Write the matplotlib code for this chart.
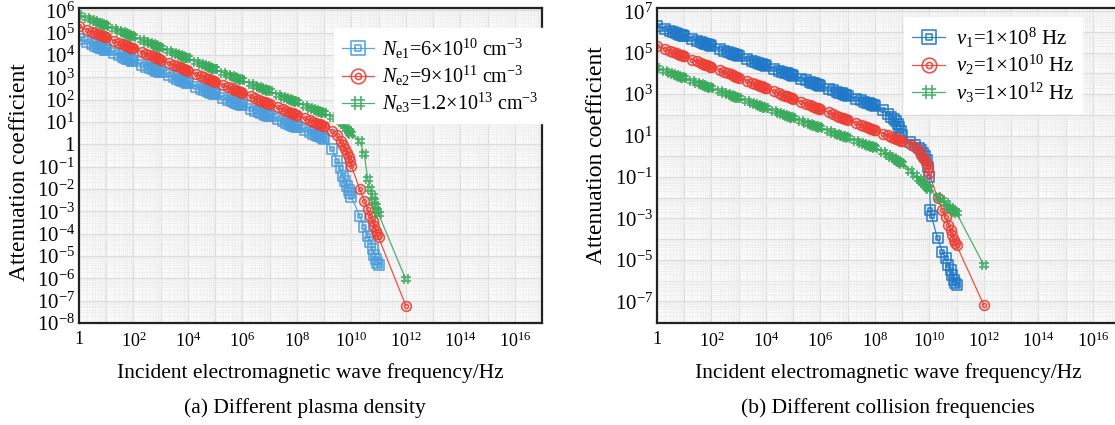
import numpy as np
import matplotlib
matplotlib.use("Agg")
import matplotlib.pyplot as plt
from matplotlib.path import Path
from matplotlib.ticker import LogLocator, FuncFormatter, NullFormatter

plt.rcParams['font.family'] = ['Liberation Serif', 'DejaVu Serif']
plt.rcParams['mathtext.fontset'] = 'custom'
plt.rcParams['mathtext.rm'] = 'Liberation Serif'
plt.rcParams['mathtext.it'] = 'Liberation Serif:italic'
plt.rcParams['mathtext.bf'] = 'Liberation Serif:bold'

# Frequency sampling: k x 10^n Hz, k = 1..9, for decades 10^0 .. 10^8
grid_decades = [0, 1, 2, 3, 4, 5, 6, 7, 8]
grid_steps = [1, 2, 3, 4, 5, 6, 7, 8, 9]

# Frequencies beyond 10^9 Hz (near and above the plasma frequency)
tail_freq_a = [1e9, 2e9, 3e9, 4e9, 5e9, 6e9, 7e9, 8e9, 9e9,
               1e10, 2e10, 3e10, 4e10, 5e10, 6e10, 7e10, 8e10, 9e10, 1e11]
tail_freq_a_ext = tail_freq_a + [1e12]

# ---- (a) different plasma density: log10 of attenuation coefficient ----
ne1_log = [4.72, 4.57, 4.48, 4.42, 4.37, 4.33, 4.30, 4.27, 4.24,
           4.22, 4.07, 3.98, 3.92, 3.87, 3.83, 3.80, 3.77, 3.74,
           3.72, 3.57, 3.48, 3.42, 3.37, 3.33, 3.30, 3.27, 3.24,
           3.23, 3.08, 2.99, 2.93, 2.88, 2.84, 2.81, 2.78, 2.75,
           2.73, 2.58, 2.49, 2.43, 2.38, 2.34, 2.31, 2.28, 2.25,
           2.24, 2.09, 2.00, 1.94, 1.89, 1.85, 1.82, 1.79, 1.76,
           1.75, 1.60, 1.51, 1.45, 1.40, 1.36, 1.33, 1.30, 1.27,
           1.26, 1.11, 1.02, 0.96, 0.91, 0.87, 0.84, 0.81, 0.78,
           0.77, 0.62, 0.53, 0.47, 0.42, 0.38, 0.35, 0.32, 0.29]
ne1_tail_log = [0.22, -0.22, -0.75, -1.08, -1.42, -1.64, -1.86, -2.05, -2.20,
                -2.35, -3.20, -3.72, -4.09, -4.39, -4.69, -4.95, -5.13, -5.30, -5.40]

ne2_log = [5.28, 5.13, 5.04, 4.98, 4.93, 4.89, 4.86, 4.83, 4.80,
           4.78, 4.63, 4.54, 4.48, 4.43, 4.39, 4.36, 4.33, 4.30,
           4.29, 4.14, 4.05, 3.99, 3.94, 3.90, 3.87, 3.84, 3.81,
           3.79, 3.64, 3.55, 3.49, 3.44, 3.40, 3.37, 3.34, 3.31,
           3.29, 3.14, 3.05, 2.99, 2.94, 2.90, 2.87, 2.84, 2.81,
           2.80, 2.65, 2.56, 2.50, 2.45, 2.41, 2.38, 2.35, 2.32,
           2.30, 2.15, 2.06, 2.00, 1.95, 1.91, 1.88, 1.85, 1.82,
           1.80, 1.65, 1.56, 1.50, 1.45, 1.41, 1.38, 1.35, 1.32,
           1.31, 1.16, 1.07, 1.01, 0.96, 0.92, 0.89, 0.86, 0.83]
ne2_tail_log = [0.80, 0.59, 0.40, 0.14, -0.05, -0.22, -0.40, -0.55, -0.75,
                -0.97, -1.98, -2.53, -2.90, -3.20, -3.42, -3.65, -3.87, -4.03, -4.17,
                -7.22]

ne3_log = [5.80, 5.65, 5.56, 5.50, 5.45, 5.41, 5.38, 5.35, 5.32,
           5.31, 5.16, 5.07, 5.01, 4.96, 4.92, 4.89, 4.86, 4.83,
           4.82, 4.67, 4.58, 4.52, 4.47, 4.43, 4.40, 4.37, 4.34,
           4.33, 4.18, 4.09, 4.03, 3.98, 3.94, 3.91, 3.88, 3.85,
           3.84, 3.69, 3.60, 3.54, 3.49, 3.45, 3.42, 3.39, 3.36,
           3.35, 3.20, 3.11, 3.05, 3.00, 2.96, 2.93, 2.90, 2.87,
           2.86, 2.71, 2.62, 2.56, 2.51, 2.47, 2.44, 2.41, 2.38,
           2.37, 2.22, 2.13, 2.07, 2.02, 1.98, 1.95, 1.92, 1.89,
           1.88, 1.73, 1.64, 1.58, 1.53, 1.49, 1.46, 1.43, 1.40]
ne3_tail_log = [1.38, 1.24, 1.12, 1.00, 0.90, 0.80, 0.70, 0.60, 0.52,
                0.45, 0.15, -0.45, -1.56, -2.00, -2.31, -2.53, -2.75, -2.98, -3.13,
                -6.05]

# ---- (b) different collision frequency: log10 of attenuation coefficient ----
nu1_log = [6.29, 6.15, 6.06, 6.00, 5.95, 5.92, 5.88, 5.86, 5.83,
           5.81, 5.67, 5.58, 5.52, 5.47, 5.44, 5.40, 5.38, 5.35,
           5.33, 5.19, 5.10, 5.04, 4.99, 4.96, 4.92, 4.90, 4.87,
           4.85, 4.71, 4.62, 4.56, 4.51, 4.48, 4.44, 4.42, 4.39,
           4.37, 4.23, 4.14, 4.08, 4.03, 4.00, 3.96, 3.94, 3.91,
           3.89, 3.75, 3.66, 3.60, 3.55, 3.52, 3.48, 3.46, 3.43,
           3.41, 3.27, 3.18, 3.12, 3.07, 3.04, 3.00, 2.98, 2.95,
           2.93, 2.79, 2.70, 2.64, 2.59, 2.56, 2.52, 2.50, 2.47,
           2.45, 2.22, 2.05, 1.92, 1.80, 1.68, 1.55, 1.40, 1.22]
nu1_tail_freq = [1e9, 2e9, 3e9, 4e9, 5e9, 6e9, 7e9, 8e9, 9e9, 1e10, 1.1e10, 1.2e10,
                 2e10, 3e10, 4e10, 5e10, 6e10, 7e10, 8e10, 9e10, 1e11]
nu1_tail_log = [1.05, 0.70, 0.55, 0.42, 0.30, 0.15, 0.00, -0.20, -0.50, -0.99, -2.60, -2.90,
                -3.96, -4.60, -4.93, -5.25, -5.49, -5.73, -5.98, -6.10, -6.22]

nu2_log = [5.33, 5.18, 5.09, 5.02, 4.97, 4.93, 4.90, 4.87, 4.84,
           4.82, 4.67, 4.58, 4.51, 4.46, 4.42, 4.39, 4.36, 4.33,
           4.31, 4.16, 4.07, 4.00, 3.95, 3.91, 3.88, 3.85, 3.82,
           3.80, 3.65, 3.56, 3.49, 3.44, 3.40, 3.37, 3.34, 3.31,
           3.29, 3.14, 3.05, 2.98, 2.93, 2.89, 2.86, 2.83, 2.80,
           2.78, 2.63, 2.54, 2.47, 2.42, 2.38, 2.35, 2.32, 2.29,
           2.27, 2.12, 2.03, 1.96, 1.91, 1.87, 1.84, 1.81, 1.78,
           1.76, 1.61, 1.52, 1.45, 1.40, 1.36, 1.33, 1.30, 1.27,
           1.25, 1.10, 1.01, 0.94, 0.89, 0.85, 0.82, 0.79, 0.76]
nu2_tail_log = [0.74, 0.60, 0.46, 0.30, 0.06, -0.10, -0.20, -0.35, -0.50,
                -0.82, -2.03, -2.59, -2.92, -3.32, -3.56, -3.80, -4.04, -4.20, -4.29,
                -7.18]

nu3_log = [4.25, 4.11, 4.02, 3.96, 3.91, 3.88, 3.84, 3.82, 3.79,
           3.77, 3.63, 3.54, 3.48, 3.43, 3.40, 3.36, 3.34, 3.31,
           3.29, 3.15, 3.06, 3.00, 2.95, 2.92, 2.88, 2.86, 2.83,
           2.81, 2.67, 2.58, 2.52, 2.47, 2.44, 2.40, 2.38, 2.35,
           2.33, 2.19, 2.10, 2.04, 1.99, 1.96, 1.92, 1.90, 1.87,
           1.85, 1.71, 1.62, 1.56, 1.51, 1.48, 1.44, 1.42, 1.39,
           1.37, 1.23, 1.14, 1.08, 1.03, 1.00, 0.96, 0.94, 0.91,
           0.89, 0.75, 0.66, 0.60, 0.55, 0.52, 0.48, 0.46, 0.43,
           0.41, 0.22, 0.08, -0.02, -0.10, -0.16, -0.22, -0.27, -0.32]
nu3_tail_log = [-0.36, -0.70, -0.92, -1.08, -1.20, -1.30, -1.40, -1.47, -1.55,
                -1.60, -1.95, -2.11, -2.25, -2.43, -2.50, -2.58, -2.65, -2.70, -2.75,
                -5.25]

labels_a = [r'$N_{\mathrm{e1}}$=6×10$^{10}$ cm$^{-3}$',
            r'$N_{\mathrm{e2}}$=9×10$^{11}$ cm$^{-3}$',
            r'$N_{\mathrm{e3}}$=1.2×10$^{13}$ cm$^{-3}$']
labels_b = [r'$v_{1}$=1×10$^{8}$ Hz',
            r'$v_{2}$=1×10$^{10}$ Hz',
            r'$v_{3}$=1×10$^{12}$ Hz']

XLABEL = 'Incident electromagnetic wave frequency/Hz'
YLABEL = 'Attenuation coefficient'
CAPTIONS = ['(a) Different plasma density', '(b) Different collision frequencies']

grid_freq = [k * 10.0 ** n for n in grid_decades for k in grid_steps]


def concat(base_log, tail_freq, tail_log):
    f = np.array(grid_freq + list(tail_freq))
    y = 10.0 ** np.array(base_log + list(tail_log))
    return f, y


# marker shapes
def _closed(verts):
    codes = [Path.MOVETO] + [Path.LINETO] * (len(verts) - 2) + [Path.CLOSEPOLY]
    return Path(verts, codes)


sq = np.array([(-1, -1), (1, -1), (1, 1), (-1, 1), (-1, -1)], float)
SQUARE2 = Path.make_compound_path(_closed(sq), _closed(sq * 0.42))
circ = Path.unit_circle()
CIRCLE2 = Path.make_compound_path(circ, Path(circ.vertices * 0.42, circ.codes))
HASH = Path([(-0.35, -1), (-0.35, 1), (0.35, -1), (0.35, 1),
             (-1, -0.35), (1, -0.35), (-1, 0.35), (1, 0.35)],
            [Path.MOVETO, Path.LINETO] * 4)

C_BLUE_A = '#4b9ddc'
C_BLUE_B = '#1f78c8'
C_RED = '#ec3f35'
C_GREEN = '#3aaa5c'


def style_axes(ax, ylim, ylabel_every_odd):
    ax.set_xscale('log')
    ax.set_yscale('log')
    ax.set_xlim(1, 1e17)
    ax.set_ylim(*ylim)
    ax.set_facecolor('#f9f9f9')
    ax.set_axisbelow(True)

    ax.xaxis.set_major_locator(LogLocator(base=10, numticks=30))
    ax.yaxis.set_major_locator(LogLocator(base=10, numticks=30))
    ax.xaxis.set_minor_locator(LogLocator(base=10, subs=range(2, 10), numticks=30))
    ax.yaxis.set_minor_locator(LogLocator(base=10, subs=range(2, 10), numticks=30))
    ax.xaxis.set_minor_formatter(NullFormatter())
    ax.yaxis.set_minor_formatter(NullFormatter())

    def xfmt(v, pos):
        e = int(round(np.log10(v)))
        if e % 2:
            return ''
        return '1' if e == 0 else r'$10^{%d}$' % e

    def yfmt(v, pos):
        e = int(round(np.log10(v)))
        if ylabel_every_odd and e % 2 == 0:
            return ''
        return '1' if e == 0 else r'$10^{%d}$' % e

    ax.xaxis.set_major_formatter(FuncFormatter(xfmt))
    ax.yaxis.set_major_formatter(FuncFormatter(yfmt))
    ax.tick_params(which='both', length=0)
    ax.tick_params(axis='x', labelsize=13, pad=6)
    ax.tick_params(axis='y', labelsize=15, pad=3)
    ax.grid(which='major', color='#dcdcdc', lw=0.8)
    ax.grid(which='minor', color='#ededed', lw=0.5)
    for s in ax.spines.values():
        s.set_color('#222222')
        s.set_linewidth(1.6)
    ax.set_xlabel(XLABEL, fontsize=15.5, labelpad=9)


fig = plt.figure(figsize=(11.15, 4.25), dpi=100)
W, H = 1115.0, 425.0
ax_a = fig.add_axes([79 / W, 102 / H, 463 / W, 315 / H])
ax_b = fig.add_axes([657 / W, 102 / H, 463 / W, 315 / H])

style_axes(ax_a, (1e-8, 10 ** 6.1), False)
style_axes(ax_b, (10 ** -8.05, 10 ** 7.16), True)

series_a = [
    (ne1_log, tail_freq_a, ne1_tail_log, C_BLUE_A, SQUARE2, labels_a[0]),
    (ne2_log, tail_freq_a_ext, ne2_tail_log, C_RED, CIRCLE2, labels_a[1]),
    (ne3_log, tail_freq_a_ext, ne3_tail_log, C_GREEN, HASH, labels_a[2]),
]
series_b = [
    (nu1_log, nu1_tail_freq, nu1_tail_log, C_BLUE_B, SQUARE2, labels_b[0]),
    (nu2_log, tail_freq_a_ext, nu2_tail_log, C_RED, CIRCLE2, labels_b[1]),
    (nu3_log, tail_freq_a_ext, nu3_tail_log, C_GREEN, HASH, labels_b[2]),
]

for ax, series in ((ax_a, series_a), (ax_b, series_b)):
    for base, tf, tl, col, mk, lab in series:
        f, y = concat(base, tf, tl)
        ax.plot(f, y, color=col, lw=0.9, marker=mk, ms=7, mfc='none',
                mec=col, mew=1.2, label=lab, alpha=0.9)

leg_kw = dict(loc='upper left', frameon=True, fancybox=False,
              framealpha=1.0, edgecolor='white', facecolor='white',
              handlelength=1.6, labelspacing=0.15,
              borderpad=0.4, markerscale=1.5, borderaxespad=0)
ax_a.legend(bbox_to_anchor=(0.55, 0.935), fontsize=14.5, handletextpad=0.4, **leg_kw)
ax_b.legend(bbox_to_anchor=(0.533, 0.97), fontsize=15, handletextpad=0.5, **leg_kw)

fig.text(20 / W, 1 - 172 / H, YLABEL, rotation=90, ha='center', va='center', fontsize=17)
fig.text(596 / W, 1 - 155 / H, YLABEL, rotation=90, ha='center', va='center', fontsize=17)
fig.text(305 / W, 1 - 408 / H, CAPTIONS[0], ha='center', va='center', fontsize=15.5)
fig.text(888 / W, 1 - 408 / H, CAPTIONS[1], ha='center', va='center', fontsize=15.5)

fig.savefig('out.png', dpi=100, facecolor='white')
